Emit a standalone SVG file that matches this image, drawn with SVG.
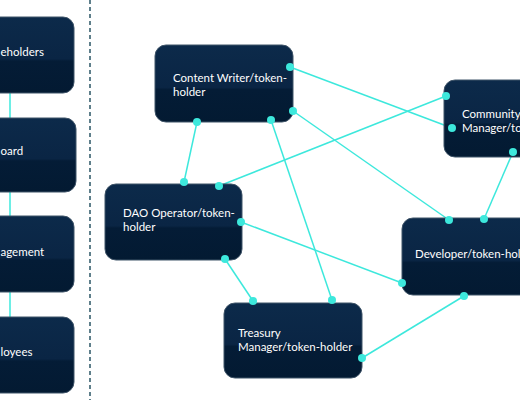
<svg xmlns="http://www.w3.org/2000/svg" width="520" height="400" viewBox="0 0 520 400">
<defs>
<linearGradient id="bg" x1="0" y1="0" x2="0" y2="1">
<stop offset="0" stop-color="#0c2a4a"/>
<stop offset="0.55" stop-color="#0a2544"/>
<stop offset="0.58" stop-color="#041c36"/>
<stop offset="1" stop-color="#031a32"/>
</linearGradient>
<style>
.box{fill:url(#bg);stroke:#3f5468;stroke-width:1}
.t{font-family:Lato,"Open Sans",sans-serif;font-size:11.5px;fill:#ffffff}
.c{stroke:#3de8dc;stroke-width:1.5;fill:none}
.d{fill:#3de8dc}
</style>
</defs>
<rect width="520" height="400" fill="#ffffff"/>
<line x1="90" y1="0" x2="90" y2="400" stroke="#2a5666" stroke-width="1.5" stroke-dasharray="4,3"/>
<g id="connectors">
<line class="c" x1="10" y1="93" x2="10" y2="118"/>
<line class="c" x1="10" y1="192" x2="10" y2="216"/>
<line class="c" x1="10" y1="292" x2="10" y2="317"/>
<line class="c" x1="290" y1="67" x2="452" y2="128"/>
<line class="c" x1="293" y1="111" x2="449" y2="220"/>
<line class="c" x1="197" y1="122" x2="184" y2="182"/>
<line class="c" x1="271" y1="120" x2="332" y2="300"/>
<line class="c" x1="219" y1="186" x2="446" y2="96"/>
<line class="c" x1="241" y1="222" x2="402" y2="283"/>
<line class="c" x1="225" y1="259" x2="253" y2="301"/>
<line class="c" x1="513" y1="152" x2="484" y2="219"/>
<line class="c" x1="362" y1="358" x2="464" y2="296"/>
</g>
<g id="shareholders">
<rect class="box" x="-20" y="17" width="94" height="76" rx="11"/>
<text class="t" x="0.5" y="56">eholders</text>
</g>
<g id="board">
<rect class="box" x="-20" y="118" width="96" height="74" rx="11"/>
<text class="t" x="0.5" y="155">oard</text>
</g>
<g id="management">
<rect class="box" x="-20" y="216" width="94" height="76" rx="11"/>
<text class="t" x="0.5" y="256">agement</text>
</g>
<g id="employees">
<rect class="box" x="-20" y="317" width="94" height="76" rx="11"/>
<text class="t" x="0.5" y="356">loyees</text>
</g>
<g id="content-writer">
<rect class="box" x="155" y="45" width="138" height="77" rx="11"/>
<text class="t" x="173" y="82">Content Writer/token-</text>
<text class="t" x="173" y="96">holder</text>
<circle class="d" cx="290" cy="67" r="4"/>
<circle class="d" cx="293" cy="111" r="4"/>
<circle class="d" cx="197" cy="122" r="4"/>
<circle class="d" cx="271" cy="120" r="4"/>
</g>
<g id="dao-operator">
<rect class="box" x="105" y="184" width="137" height="76" rx="11"/>
<text class="t" x="123" y="217">DAO Operator/token-</text>
<text class="t" x="123" y="231">holder</text>
<circle class="d" cx="184" cy="182" r="4"/>
<circle class="d" cx="219" cy="186" r="4"/>
<circle class="d" cx="241" cy="222" r="4"/>
<circle class="d" cx="225" cy="259" r="4"/>
</g>
<g id="treasury">
<rect class="box" x="224" y="303" width="138" height="75" rx="11"/>
<text class="t" x="238" y="337">Treasury</text>
<text class="t" x="238" y="351">Manager/token-holder</text>
<circle class="d" cx="253" cy="301" r="4"/>
<circle class="d" cx="332" cy="300" r="4"/>
<circle class="d" cx="362" cy="358" r="4"/>
</g>
<g id="community">
<rect class="box" x="444" y="80" width="100" height="77" rx="11"/>
<text class="t" x="462" y="118">Community</text>
<text class="t" x="462" y="132">Manager/token-holder</text>
<circle class="d" cx="446" cy="96" r="4"/>
<circle class="d" cx="452" cy="128" r="4"/>
<circle class="d" cx="513" cy="152" r="4"/>
</g>
<g id="developer">
<rect class="box" x="402" y="218" width="140" height="77" rx="11"/>
<text class="t" x="415" y="258">Developer/token-holder</text>
<circle class="d" cx="449" cy="220" r="4"/>
<circle class="d" cx="484" cy="219" r="4"/>
<circle class="d" cx="402" cy="283" r="4"/>
<circle class="d" cx="464" cy="296" r="4"/>
</g>
</svg>
